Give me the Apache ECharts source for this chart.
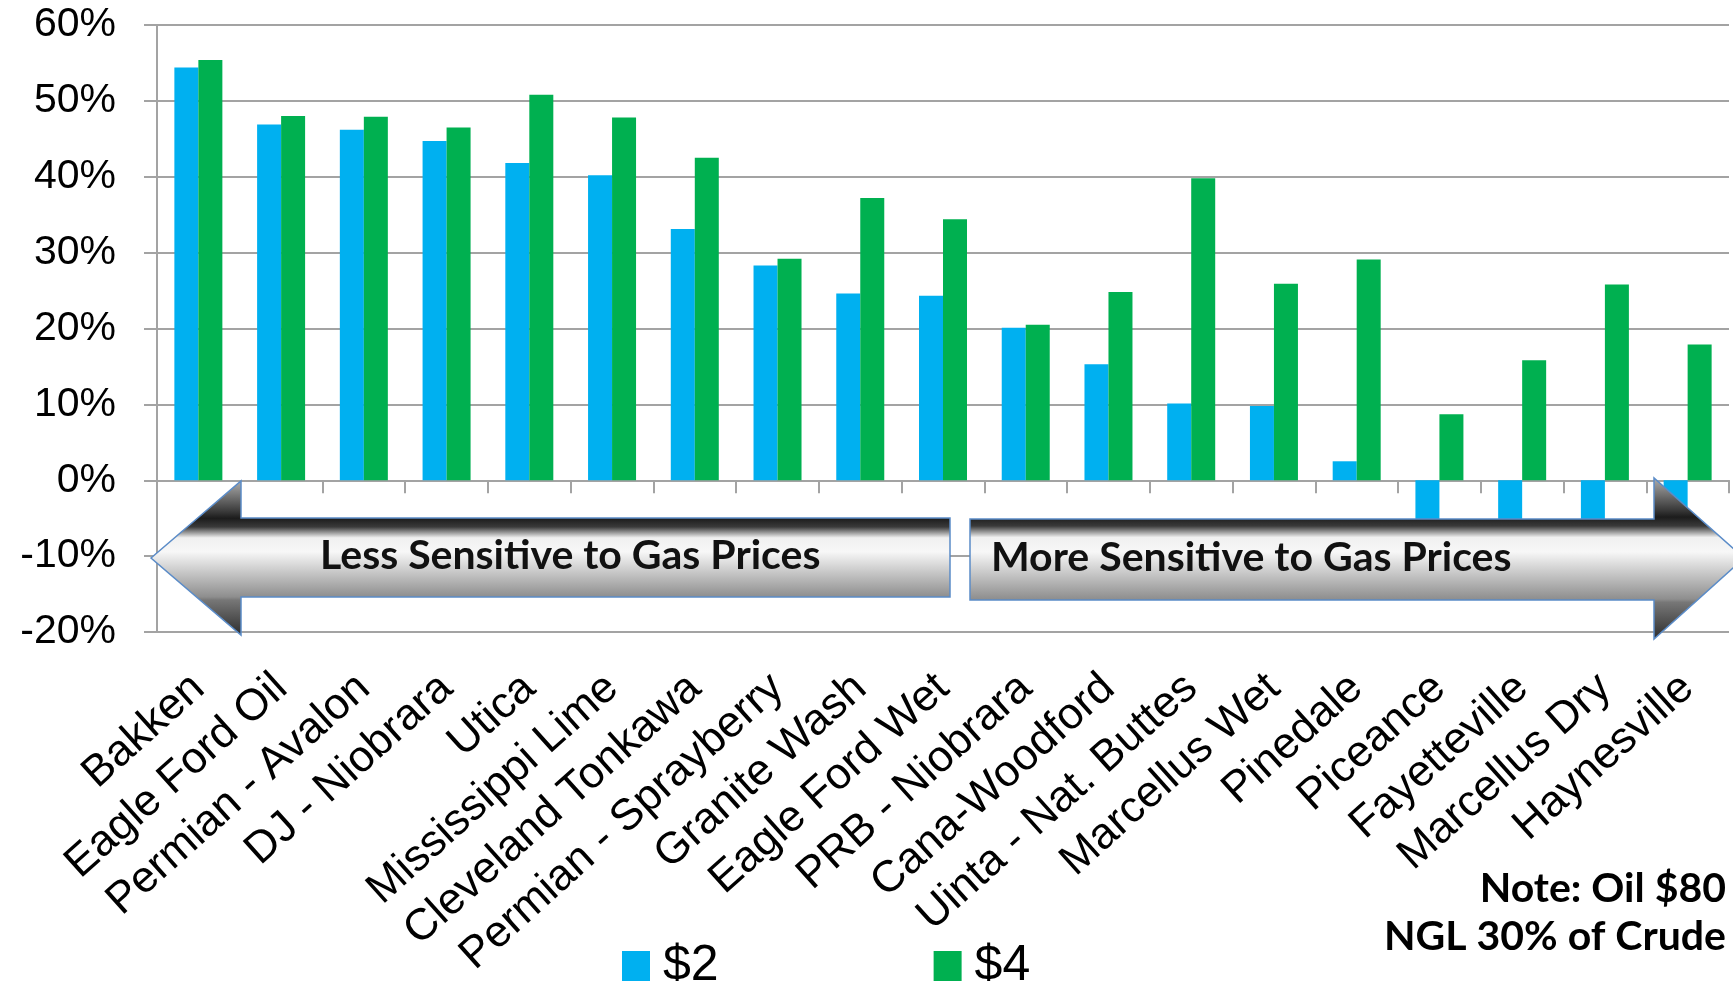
<!DOCTYPE html>
<html>
<head>
<meta charset="utf-8">
<script src="https://cdn.jsdelivr.net/npm/echarts@6/dist/echarts.min.js"></script>
<style>
  html, body { margin: 0; padding: 0; background: #fff; }
  #main { width: 1733px; height: 981px; }
</style>
</head>
<body>
<div id="main"></div>
<script>
// plays, ordered from least to most sensitive to gas price
const plays = ['Bakken', 'Eagle Ford Oil', 'Permian - Avalon', 'DJ - Niobrara', 'Utica',
  'Mississippi Lime', 'Cleveland Tonkawa', 'Permian - Sprayberry', 'Granite Wash',
  'Eagle Ford Wet', 'PRB - Niobrara', 'Cana-Woodford', 'Uinta - Nat. Buttes',
  'Marcellus Wet', 'Pinedale', 'Piceance', 'Fayetteville', 'Marcellus Dry', 'Haynesville'];

// return (%) at $2 and $4 gas
const gas2 = [54.4, 46.9, 46.2, 44.7, 41.8, 40.2, 33.1, 28.3, 24.6, 24.3, 20.1, 15.3, 10.1, 9.8, 2.5, -6, -6, -6, -6];
const gas4 = [55.4, 48.0, 47.9, 46.5, 50.8, 47.8, 42.5, 29.2, 37.2, 34.4, 20.5, 24.8, 39.8, 25.9, 29.1, 8.7, 15.8, 25.8, 17.9];

const seriesNames = ['$2', '$4'];
const yTicks = { min: -20, max: 60, step: 10 };
const noteLines = ['Note: Oil $80', 'NGL 30% of Crude'];

const gridColor = '#a3a3a3';

// metallic look for the two big arrows
function arrowFill() {
  return new echarts.graphic.LinearGradient(0, 0, 0, 1, [
    { offset: 0, color: '#b0b0b0' },
    { offset: 0.2, color: '#3a3a3a' },
    { offset: 0.245, color: '#1c1c1c' },
    { offset: 0.3, color: '#3a3a3a' },
    { offset: 0.37, color: '#f0f0f0' },
    { offset: 0.46, color: '#f7f7f7' },
    { offset: 0.75, color: '#8e8e8e' },
    { offset: 0.77, color: '#777777' },
    { offset: 1, color: '#2c2c2c' }
  ]);
}

const chart = echarts.init(document.getElementById('main'));

const option = {
  animation: false,
  backgroundColor: '#fff',
  grid: { left: 157, right: 4, top: 25, bottom: 349, containLabel: false, outerBoundsMode: 'none' },
  legend: {
    data: seriesNames,
    left: 617,
    top: 936,
    icon: 'rect',
    itemWidth: 28,
    itemHeight: 30,
    itemGap: 215,
    textStyle: {
      fontFamily: '"Liberation Sans Narrow", "Liberation Sans", Arial, sans-serif',
      fontSize: 50,
      color: '#000',
      padding: [0, 0, 0, 8]
    }
  },
  xAxis: {
    type: 'category',
    data: plays,
    axisLine: { onZero: true, lineStyle: { color: gridColor, width: 2 } },
    axisTick: { show: true, interval: 0, length: 13, lineStyle: { color: gridColor, width: 2 } },
    axisLabel: {
      interval: 0,
      rotate: 42,
      margin: 50,
      fontFamily: '"Liberation Sans", Arial, sans-serif',
      fontSize: 44,
      color: '#000'
    }
  },
  yAxis: {
    type: 'value',
    min: yTicks.min,
    max: yTicks.max,
    interval: yTicks.step,
    axisLine: { show: true, lineStyle: { color: gridColor, width: 2 } },
    axisTick: { show: true, length: 13, lineStyle: { color: gridColor, width: 2 } },
    splitLine: { lineStyle: { color: gridColor, width: 2 } },
    axisLabel: {
      formatter: '{value}%',
      margin: 41,
      fontFamily: '"Liberation Sans", Arial, sans-serif',
      fontSize: 41,
      color: '#000'
    }
  },
  series: [
    {
      name: seriesNames[0],
      type: 'bar',
      data: gas2,
      barWidth: 24,
      barGap: '0%',
      itemStyle: { color: '#00b0f0' }
    },
    {
      name: seriesNames[1],
      type: 'bar',
      data: gas4,
      barWidth: 24,
      itemStyle: { color: '#00b050' }
    }
  ],
  graphic: [
    {
      type: 'polygon',
      z: 100,
      shape: { points: [[151, 558], [241, 481], [241, 518], [950, 518], [950, 597], [241, 597], [241, 635]] },
      style: { fill: arrowFill(), stroke: '#5b8cc8', lineWidth: 1.5 }
    },
    {
      type: 'polygon',
      z: 100,
      shape: { points: [[970, 519], [1654, 519], [1654, 478], [1744, 558], [1654, 639], [1654, 600], [970, 600]] },
      style: { fill: arrowFill(), stroke: '#5b8cc8', lineWidth: 1.5 }
    },
    {
      type: 'text',
      z: 101,
      left: 320,
      top: 535,
      style: {
        text: 'Less Sensitive to Gas Prices',
        font: 'bold 41px Lato, "Open Sans", sans-serif',
        fill: '#111'
      }
    },
    {
      type: 'text',
      z: 101,
      left: 991,
      top: 537,
      style: {
        text: 'More Sensitive to Gas Prices',
        font: 'bold 41px Lato, "Open Sans", sans-serif',
        fill: '#111'
      }
    },
    {
      type: 'text',
      z: 101,
      right: 7,
      top: 868,
      style: {
        text: noteLines[0],
        font: 'bold 41px Lato, "Open Sans", sans-serif',
        fill: '#000'
      }
    },
    {
      type: 'text',
      z: 101,
      right: 7,
      top: 916,
      style: {
        text: noteLines[1],
        font: 'bold 41px Lato, "Open Sans", sans-serif',
        fill: '#000'
      }
    }
  ]
};

chart.setOption(option);
</script>
</body>
</html>
